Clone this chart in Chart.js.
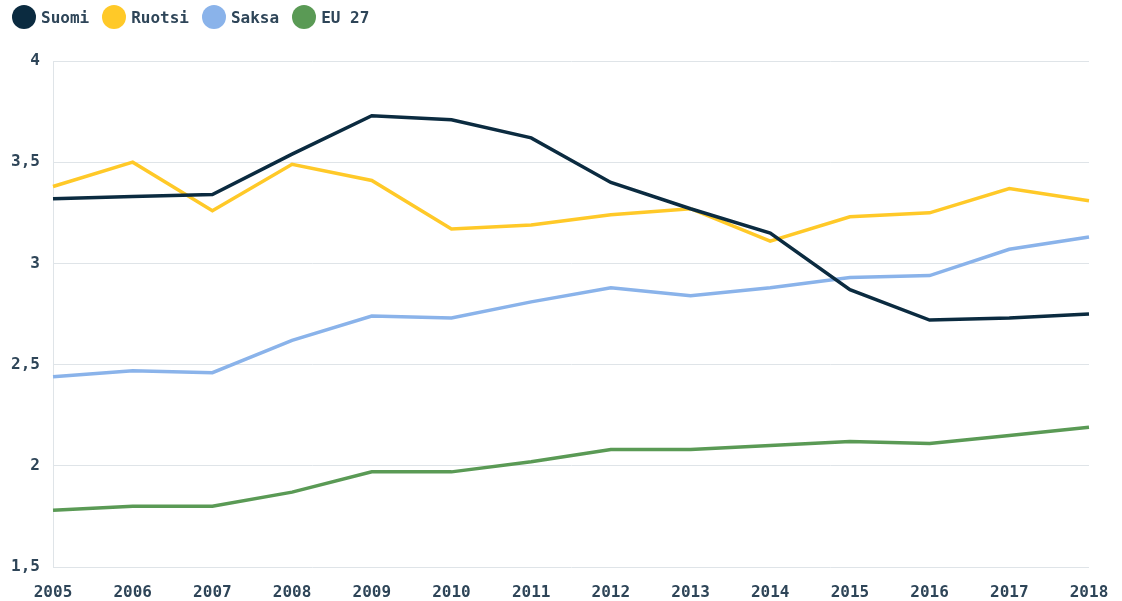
<!DOCTYPE html>
<html>
<head>
<meta charset="utf-8">
<script src="https://cdn.jsdelivr.net/npm/chart.js@4/dist/chart.umd.min.js"></script>
<style>
html,body{margin:0;padding:0;background:#fff;}
#wrap{width:1122px;height:601px;position:relative;}
#legend{position:absolute;left:12px;top:5px;display:flex;align-items:center;
  font-family:'DejaVu Sans Mono','Liberation Mono',monospace;font-weight:bold;font-size:16px;color:#2e4558;}
#legend .item{display:flex;align-items:center;margin-right:13px;}
#legend .dot{width:24px;height:24px;border-radius:50%;margin-right:5px;}
</style>
</head>
<body>
<div id="wrap"><div id="legend"></div><canvas id="c" width="1122" height="601"></canvas></div>
<script>
const years = ['2005','2006','2007','2008','2009','2010','2011','2012','2013','2014','2015','2016','2017','2018'];
const suomi  = [3.32,3.33,3.34,3.54,3.73,3.71,3.62,3.40,3.27,3.15,2.87,2.72,2.73,2.75];
const ruotsi = [3.38,3.50,3.26,3.49,3.41,3.17,3.19,3.24,3.27,3.11,3.23,3.25,3.37,3.31];
const saksa  = [2.44,2.47,2.46,2.62,2.74,2.73,2.81,2.88,2.84,2.88,2.93,2.94,3.07,3.13];
const eu27   = [1.78,1.80,1.80,1.87,1.97,1.97,2.02,2.08,2.08,2.10,2.12,2.11,2.15,2.19];
const seriesNames = ['Suomi','Ruotsi','Saksa','EU 27'];
const seriesColors = ['#0b2b40','#ffc928','#8ab3ea','#5a9a55'];
const yTicks = [1.5,2,2.5,3,3.5,4];

const textColor = '#2e4558';
const font = {family:"'DejaVu Sans Mono', 'Liberation Mono', monospace", size:16, weight:'bold'};
const allData = [suomi, ruotsi, saksa, eu27];

const legendEl = document.getElementById('legend');
seriesNames.forEach((n,i)=>{
  const it = document.createElement('div'); it.className='item';
  const d = document.createElement('span'); d.className='dot'; d.style.background=seriesColors[i];
  const t = document.createElement('span'); t.textContent=n;
  it.appendChild(d); it.appendChild(t); legendEl.appendChild(it);
});

new Chart(document.getElementById('c'), {
  type:'line',
  data:{
    labels: years,
    datasets: allData.map((d,i)=>({
      label: seriesNames[i],
      data: d,
      borderColor: seriesColors[i],
      backgroundColor: seriesColors[i],
      borderWidth: 3.5,
      pointRadius: 0,
      pointHoverRadius: 0,
      tension: 0,
      fill: false
    }))
  },
  options:{
    responsive:false,
    animation:false,
    layout:{padding:{left:3,right:33,top:61,bottom:0}},
    plugins:{
      tooltip:{enabled:false},
      legend:{display:false}
    },
    scales:{
      x:{
        offset:false,
        grid:{display:false, drawTicks:false},
        border:{display:false},
        ticks:{color:textColor, font:font, padding:16, maxRotation:0, autoSkip:false},
        afterFit:(axis)=>{axis.height = 34; axis.paddingLeft = 0; axis.paddingRight = 0;}
      },
      y:{
        min:1.5, max:4,
        afterBuildTicks:(axis)=>{axis.ticks = yTicks.map(v=>({value:v}));},
        grid:{color:'#dfe4e8', lineWidth:1, drawTicks:false},
        border:{display:true, color:'#dfe4e8', width:1},
        ticks:{color:textColor, font:font, padding:13,
          callback:(v)=>String(v).replace('.',',')},
        afterFit:(axis)=>{axis.width = 50;}
      }
    }
  }
});
</script>
</body>
</html>
